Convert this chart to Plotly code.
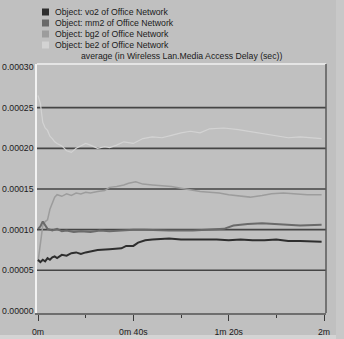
import plotly.graph_objects as go

# ---- data (time in seconds, delay in seconds) ----
vo2_t = [0, 1, 2, 3, 4, 5, 6, 7, 8, 9, 10, 12, 14, 16, 18, 20, 25, 30, 35, 37, 40, 42, 45, 48, 55, 60, 65, 70, 75, 80, 85, 90, 95, 100, 105, 110, 115, 119]
vo2_v = [0.000063, 0.000060, 0.000063, 0.000061, 0.000065, 0.000063, 0.000066, 0.000067, 0.000065, 0.000067, 0.000069, 0.000068, 0.000071, 0.000072, 0.000070, 0.000072, 0.000075, 0.000076, 0.000077, 0.000080, 0.000080, 0.000084, 0.000087, 0.000088, 0.000089, 0.000088, 0.000088, 0.000088, 0.000088, 0.000087, 0.000088, 0.000087, 0.000087, 0.000088, 0.000086, 0.000086, 0.000085, 0.000085]

mm2_t = [0, 1, 2, 3, 4, 6, 8, 10, 12, 15, 18, 22, 26, 30, 35, 40, 45, 55, 65, 72, 78, 82, 88, 94, 100, 110, 119]
mm2_v = [0.000101, 0.000104, 0.000110, 0.000106, 0.000101, 0.000099, 0.000101, 0.000098, 0.000099, 0.000097, 0.000098, 0.000097, 0.000099, 0.000098, 0.000099, 0.000100, 0.000100, 0.000099, 0.000099, 0.000100, 0.000101, 0.000105, 0.000107, 0.000108, 0.000107, 0.000105, 0.000106]

bg2_t = [0, 1, 2, 3, 4, 5, 6, 7, 8, 10, 12, 14, 16, 18, 20, 22, 25, 28, 30, 33, 36, 38, 41, 44, 48, 52, 56, 60, 64, 68, 72, 76, 80, 85, 89, 94, 98, 103, 108, 113, 119]
bg2_v = [0.000060, 0.000085, 0.000105, 0.000110, 0.000112, 0.000125, 0.000133, 0.000140, 0.000143, 0.000141, 0.000144, 0.000142, 0.000145, 0.000144, 0.000146, 0.000145, 0.000147, 0.000148, 0.000152, 0.000153, 0.000155, 0.000157, 0.000159, 0.000156, 0.000155, 0.000154, 0.000153, 0.000151, 0.000149, 0.000147, 0.000146, 0.000145, 0.000143, 0.000141, 0.000140, 0.000142, 0.000144, 0.000145, 0.000144, 0.000143, 0.000143]

be2_t = [0, 1, 2, 3, 4, 5, 6, 7, 8, 10, 12, 14, 16, 18, 20, 22, 25, 28, 30, 33, 36, 40, 44, 48, 52, 56, 60, 64, 68, 72, 78, 84, 90, 95, 100, 105, 110, 115, 119]
be2_v = [0.000265, 0.000255, 0.000232, 0.000225, 0.000222, 0.000215, 0.000212, 0.000208, 0.000206, 0.000203, 0.000197, 0.000195, 0.000200, 0.000203, 0.000206, 0.000204, 0.000200, 0.000202, 0.000201, 0.000204, 0.000208, 0.000206, 0.000212, 0.000214, 0.000213, 0.000216, 0.000219, 0.000221, 0.000219, 0.000224, 0.000225, 0.000223, 0.000220, 0.000218, 0.000215, 0.000213, 0.000214, 0.000213, 0.000212]

series_names = ["Object: vo2 of Office Network", "Object: mm2 of Office Network",
                "Object: bg2 of Office Network", "Object: be2 of Office Network"]
series_colors = ["#2e2e2e", "#6a6a6a", "#9c9c9c", "#d3d3d3"]
series_widths = [2, 2, 1.5, 1.2]
series_t = [vo2_t, mm2_t, bg2_t, be2_t]
series_v = [vo2_v, mm2_v, bg2_v, be2_v]

x_tickvals = [0, 40, 80, 120]
x_ticktext = ["0m", "0m 40s", "1m 20s", "2m"]
y_tickvals = [0, 0.00005, 0.0001, 0.00015, 0.0002, 0.00025, 0.0003]
grid_vals = [0.00005, 0.0001, 0.00015, 0.0002, 0.00025]
title_text = "average (in Wireless Lan.Media Access Delay (sec))"

FONT = "Liberation Sans, Arial"
FS = 8.7
BG = "#c0c0c0"
W, H = 344, 339
ML, MR, MT, MB = 37, 18, 64, 26
PW, PH = W - ML - MR, H - MT - MB

def px2paper_x(px):
    return (px - ML) / PW

def px2paper_y(py):
    return (H - MB - py) / PH

fig = go.Figure()
for i in [3, 2, 1, 0]:
    fig.add_trace(go.Scatter(x=series_t[i], y=series_v[i], mode="lines",
                             line=dict(color=series_colors[i], width=series_widths[i]),
                             name=series_names[i], showlegend=False))

shapes = []
# lighter window edges (bottom and right strips)
shapes.append(dict(type="rect", xref="paper", yref="paper",
                   x0=px2paper_x(0), x1=px2paper_x(W), y0=px2paper_y(H), y1=px2paper_y(335),
                   fillcolor="#d4d4d4", line=dict(width=0), layer="below"))
shapes.append(dict(type="rect", xref="paper", yref="paper",
                   x0=px2paper_x(336), x1=px2paper_x(W), y0=px2paper_y(H), y1=px2paper_y(0),
                   fillcolor="#c8c8c8", line=dict(width=0), layer="below"))
for g in grid_vals:
    shapes.append(dict(type="line", xref="paper", yref="y", x0=0, x1=1, y0=g, y1=g,
                       line=dict(color="#454545", width=1.6), layer="below"))
shapes.append(dict(type="line", xref="paper", yref="paper", x0=0, x1=1, y0=1, y1=1,
                   line=dict(color="#f2f2f2", width=1.5)))
shapes.append(dict(type="line", xref="paper", yref="paper", x0=1, x1=1, y0=0, y1=1,
                   line=dict(color="#5a5a5a", width=1.5)))

annotations = []
legend_y = [12, 23, 34, 45]
for i, name in enumerate(series_names):
    cy = legend_y[i]
    shapes.append(dict(type="rect", xref="paper", yref="paper",
                       x0=px2paper_x(42), x1=px2paper_x(49),
                       y0=px2paper_y(cy + 3.5), y1=px2paper_y(cy - 3.5),
                       fillcolor=series_colors[i], line=dict(width=0)))
    annotations.append(dict(text=name, xref="paper", yref="paper",
                            x=px2paper_x(53), y=px2paper_y(cy), xanchor="left", yanchor="middle",
                            showarrow=False, font=dict(family=FONT, size=FS, color="#1a1a1a")))
annotations.append(dict(text=title_text, xref="paper", yref="paper",
                        x=px2paper_x(181), y=px2paper_y(56), xanchor="center", yanchor="middle",
                        showarrow=False, font=dict(family=FONT, size=FS, color="#1a1a1a")))

fig.update_layout(
    width=W, height=H,
    margin=dict(l=ML, r=MR, t=MT, b=MB, pad=0, autoexpand=False),
    paper_bgcolor=BG, plot_bgcolor=BG,
    font=dict(family=FONT, size=FS, color="#1a1a1a"),
    showlegend=False,
    shapes=shapes, annotations=annotations,
    xaxis=dict(range=[-0.42, 120.84], tickvals=x_tickvals, ticktext=x_ticktext,
               automargin=False,
               showgrid=False, zeroline=False, showline=True, linecolor="#6e6e6e", linewidth=1.5,
               ticks="outside", ticklen=6, tickcolor="#3a3a3a", tickwidth=1.3,
               ticklabelstandoff=4,
               minor=dict(tick0=0, dtick=20, ticks="outside", ticklen=3, tickcolor="#3a3a3a", tickwidth=1.2),
               tickfont=dict(family=FONT, size=FS, color="#1a1a1a")),
    yaxis=dict(range=[-0.0000025, 0.0003037], tickvals=y_tickvals, tickformat=".5f",
               automargin=False,
               showgrid=False, zeroline=False, showline=True, linecolor="#f2f2f2", linewidth=1.5,
               ticks="", ticklabelstandoff=0,
               tickfont=dict(family=FONT, size=FS, color="#1a1a1a")),
)

fig.write_html("out.html")
